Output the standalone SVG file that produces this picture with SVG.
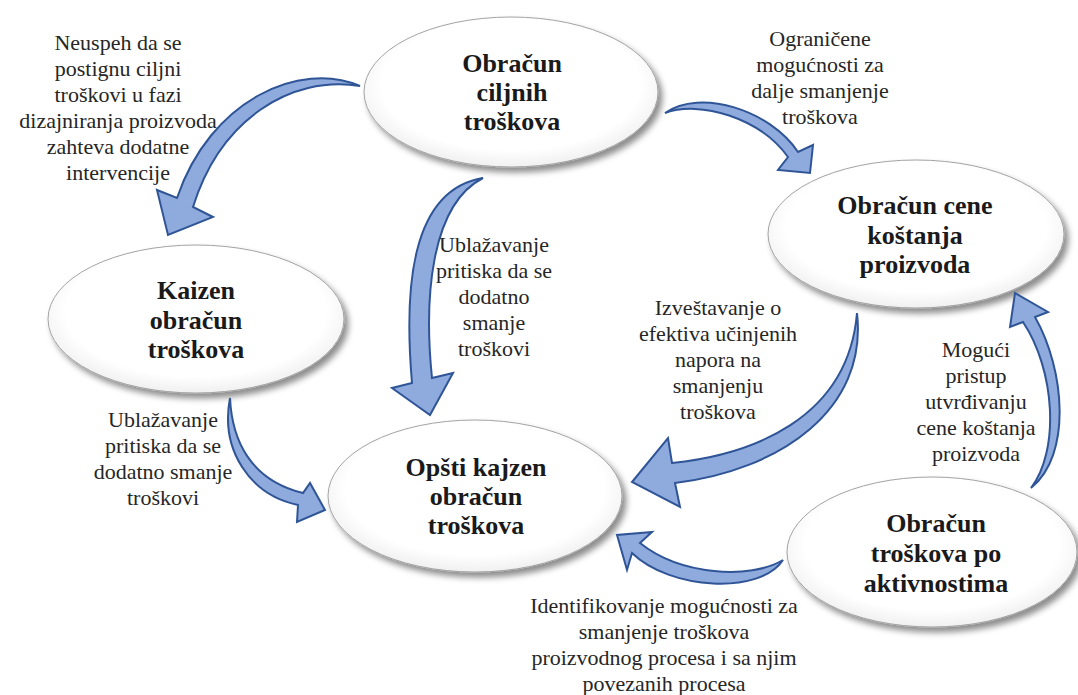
<svg xmlns="http://www.w3.org/2000/svg" width="1078" height="695" viewBox="0 0 1078 695">
  <defs>
    <radialGradient id="nodeFill" cx="50%" cy="45%" r="55%">
      <stop offset="0%" stop-color="#ffffff"/>
      <stop offset="80%" stop-color="#ffffff"/>
      <stop offset="100%" stop-color="#f0f0f0"/>
    </radialGradient>
    <filter id="shadow" x="-10%" y="-10%" width="125%" height="130%">
      <feGaussianBlur in="SourceAlpha" stdDeviation="3"/>
      <feOffset dx="4" dy="5" result="b"/>
      <feFlood flood-color="#000000" flood-opacity="0.45"/>
      <feComposite in2="b" operator="in"/>
      <feMerge>
        <feMergeNode/>
        <feMergeNode in="SourceGraphic"/>
      </feMerge>
    </filter>
  </defs>
  <style>
    .node ellipse { fill: url(#nodeFill); stroke: #a3a3a3; stroke-width: 1; filter: url(#shadow); }
    .node text { font-weight: bold; font-size: 26px; fill: #1a1a1a; text-anchor: middle; }
    .arrow { fill: #8FAADC; stroke: #2F5597; stroke-width: 2; stroke-linejoin: miter; }
    .label { font-size: 22px; fill: #262626; text-anchor: middle; }
  </style>

  <rect width="1078" height="695" fill="#ffffff"/>

  <g font-family="Liberation Serif, Tinos, Times New Roman, DejaVu Serif, serif">
  <!-- nodes -->
  <g id="n-ciljni" class="node">
    <ellipse cx="511" cy="92" rx="147" ry="75"/>
    <text x="512" y="72">Obračun</text>
    <text x="512" y="101">ciljnih</text>
    <text x="512" y="130">troškova</text>
  </g>
  <g id="n-cena" class="node">
    <ellipse cx="916" cy="234" rx="148" ry="74"/>
    <text x="915" y="214">Obračun cene</text>
    <text x="915" y="243.5">koštanja</text>
    <text x="915" y="273">proizvoda</text>
  </g>
  <g id="n-kaizen" class="node">
    <ellipse cx="196" cy="319" rx="148" ry="74"/>
    <text x="196" y="299">Kaizen</text>
    <text x="196" y="328.5">obračun</text>
    <text x="196" y="358">troškova</text>
  </g>
  <g id="n-opsti" class="node">
    <ellipse cx="475" cy="496" rx="147" ry="76"/>
    <text x="476" y="476">Opšti kajzen</text>
    <text x="476" y="505">obračun</text>
    <text x="476" y="534">troškova</text>
  </g>
  <g id="n-abc" class="node">
    <ellipse cx="932" cy="552" rx="145" ry="75"/>
    <text x="936" y="532">Obračun</text>
    <text x="936" y="562">troškova po</text>
    <text x="936" y="592">aktivnostima</text>
  </g>

  <!-- curved block arrows -->
  <g id="connectors">
    <path class="arrow" d="M 360 86 C 300 60, 210 100, 177 198 L 157 190 L 168 235 L 213 217 L 193 207 C 220 120, 290 75, 360 86 Z"/>
    <path class="arrow" d="M 665 113 C 700 88, 770 110, 798 152 L 813 145 L 810 173 L 778 170 L 788 157 C 760 118, 700 100, 665 113 Z"/>
    <path class="arrow" d="M 483 178 C 410 190, 404 290, 412 383 L 392 388 L 430 415 L 453 373 L 432 378 C 424 300, 430 205, 483 178 Z"/>
    <path class="arrow" d="M 857 313 C 868 410, 780 470, 675 483 L 680 507 L 632 482 L 668 438 L 672 463 C 750 455, 848 420, 857 313 Z"/>
    <path class="arrow" d="M 1031 488 C 1072 455, 1065 370, 1035 317 L 1048 312 L 1015 293 L 1010 327 L 1023 322 C 1055 370, 1060 450, 1031 488 Z"/>
    <path class="arrow" d="M 783 560 C 760 595, 670 590, 632 553 L 627 570 L 617 535 L 652 532 L 640 543 C 680 575, 750 580, 783 560 Z"/>
    <path class="arrow" d="M 230 398 C 220 450, 250 495, 298 505 L 297 522 L 325 510 L 310 483 L 303 493 C 250 480, 232 440, 230 398 Z"/>
  </g>

  <!-- connector labels -->
  <g id="labels">
    <text class="label" x="118" y="50">Neuspeh da se</text>
    <text class="label" x="118" y="76">postignu ciljni</text>
    <text class="label" x="118" y="102">troškovi u fazi</text>
    <text class="label" x="118" y="128">dizajniranja proizvoda</text>
    <text class="label" x="118" y="154">zahteva dodatne</text>
    <text class="label" x="118" y="180">intervencije</text>

    <text class="label" x="820" y="46">Ograničene</text>
    <text class="label" x="820" y="72">mogućnosti za</text>
    <text class="label" x="820" y="98">dalje smanjenje</text>
    <text class="label" x="820" y="124">troškova</text>

    <text class="label" x="494" y="252">Ublažavanje</text>
    <text class="label" x="494" y="278">pritiska da se</text>
    <text class="label" x="494" y="304">dodatno</text>
    <text class="label" x="494" y="330">smanje</text>
    <text class="label" x="494" y="356">troškovi</text>

    <text class="label" x="718" y="315">Izveštavanje o</text>
    <text class="label" x="718" y="341">efektiva učinjenih</text>
    <text class="label" x="718" y="367">napora na</text>
    <text class="label" x="718" y="393">smanjenju</text>
    <text class="label" x="718" y="419">troškova</text>

    <text class="label" x="976" y="357">Mogući</text>
    <text class="label" x="976" y="383">pristup</text>
    <text class="label" x="976" y="409">utvrđivanju</text>
    <text class="label" x="976" y="435">cene koštanja</text>
    <text class="label" x="976" y="461">proizvoda</text>

    <text class="label" x="163" y="427">Ublažavanje</text>
    <text class="label" x="163" y="453">pritiska da se</text>
    <text class="label" x="163" y="479">dodatno smanje</text>
    <text class="label" x="163" y="505">troškovi</text>

    <text class="label" x="664" y="613">Identifikovanje mogućnosti za</text>
    <text class="label" x="664" y="639">smanjenje troškova</text>
    <text class="label" x="664" y="665">proizvodnog procesa i sa njim</text>
    <text class="label" x="664" y="691">povezanih procesa</text>
  </g>
  </g>
</svg>
